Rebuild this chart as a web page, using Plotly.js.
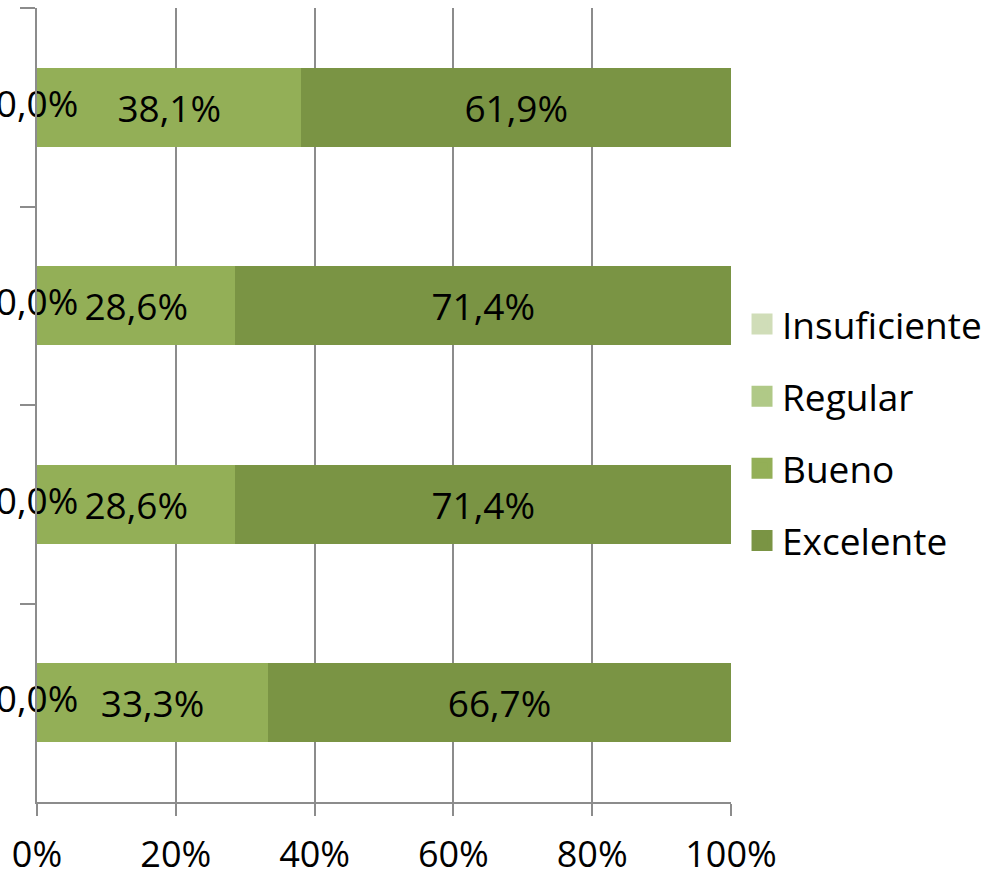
<!DOCTYPE html>
<html>
<head>
<meta charset="utf-8">
<script src="https://cdn.plot.ly/plotly-3.0.1.min.js"></script>
<style>html,body{margin:0;padding:0;background:#fff;}#chart{width:996px;height:871px;}</style>
</head>
<body>
<div id="chart"></div>
<script>
const categories = ["Grupo 1", "Grupo 2", "Grupo 3", "Grupo 4"];
const seriesNames = ["Insuficiente", "Regular", "Bueno", "Excelente"];
const insuficiente = [0.0, 0.0, 0.0, 0.0];
const regular = [0.0, 0.0, 0.0, 0.0];
const bueno = [38.1, 28.6, 28.6, 33.3];
const excelente = [61.9, 71.4, 71.4, 66.7];
const xTicks = [0, 20, 40, 60, 80, 100];
const xTickLabels = ["0%", "20%", "40%", "60%", "80%", "100%"];
const colors = ["#D0DDB8", "#B0C987", "#93AF57", "#7A9444"];

const FONT = "Open Sans, Noto Sans, sans-serif";
const FS = 37;
const values = [insuficiente, regular, bueno, excelente];

const traces = [];
values.forEach((v, i) => {
  const showText = i >= 2;
  traces.push({
    type: "bar", orientation: "h", name: seriesNames[i],
    y: categories, x: v,
    marker: {color: colors[i]},
    width: 0.4,
    texttemplate: showText ? "%{x:.1f}%" : undefined,
    textposition: showText ? "inside" : "none",
    insidetextanchor: "middle",
    constraintext: "none",
    textfont: {family: FONT, size: FS, color: "#000"},
    showlegend: false,
    hoverinfo: "x+name"
  });
});
// zero-value labels at the start of each bar
traces.push({
  type: "scatter", mode: "text", y: categories, x: insuficiente,
  texttemplate: "%{x:.1f}%", textposition: "middle center",
  textfont: {family: FONT, size: FS, color: "#000"},
  cliponaxis: false, showlegend: false, hoverinfo: "skip"
});
// legend entries
seriesNames.forEach((n, i) => {
  traces.push({
    type: "scatter", mode: "markers", name: n, x: [null], y: [null],
    marker: {symbol: "square", size: 25, color: colors[i], line: {width: 5, color: colors[i]}},
    legendgroup: "g" + i, showlegend: true, hoverinfo: "skip"
  });
});

const layout = {
  width: 996, height: 871,
  paper_bgcolor: "#fff", plot_bgcolor: "#fff",
  separators: ",.",
  barmode: "stack",
  margin: {l: 37, r: 265, t: 8, b: 69},
  font: {family: FONT, size: FS, color: "#000"},
  xaxis: {
    range: [0, 100], tickmode: "array", tickvals: xTicks, ticktext: xTickLabels,
    showgrid: true, gridcolor: "#8C8C8C", gridwidth: 2,
    showline: true, linecolor: "#8C8C8C", linewidth: 2,
    ticks: "outside", ticklen: 12, tickwidth: 2, tickcolor: "#8C8C8C",
    ticklabelstandoff: 8,
    zeroline: false, fixedrange: true,
    tickfont: {family: FONT, size: 36, color: "#000"}
  },
  yaxis: {
    type: "category", range: [3.5, -0.5], autorange: false,
    tickson: "boundaries", ticks: "outside", ticklen: 15, tickwidth: 2, tickcolor: "#8C8C8C",
    showticklabels: false, showgrid: false,
    showline: true, linecolor: "#8C8C8C", linewidth: 2,
    zeroline: false, fixedrange: true
  },
  legend: {
    xref: "container", yref: "container", x: 0.745, y: 0.663,
    xanchor: "left", yanchor: "top",
    traceorder: "grouped", tracegroupgap: 21,
    font: {family: FONT, size: FS, color: "#000"},
    bgcolor: "rgba(0,0,0,0)"
  },
  showlegend: true
};

Plotly.newPlot("chart", traces, layout, {displayModeBar: false, staticPlot: true});
</script>
</body>
</html>
